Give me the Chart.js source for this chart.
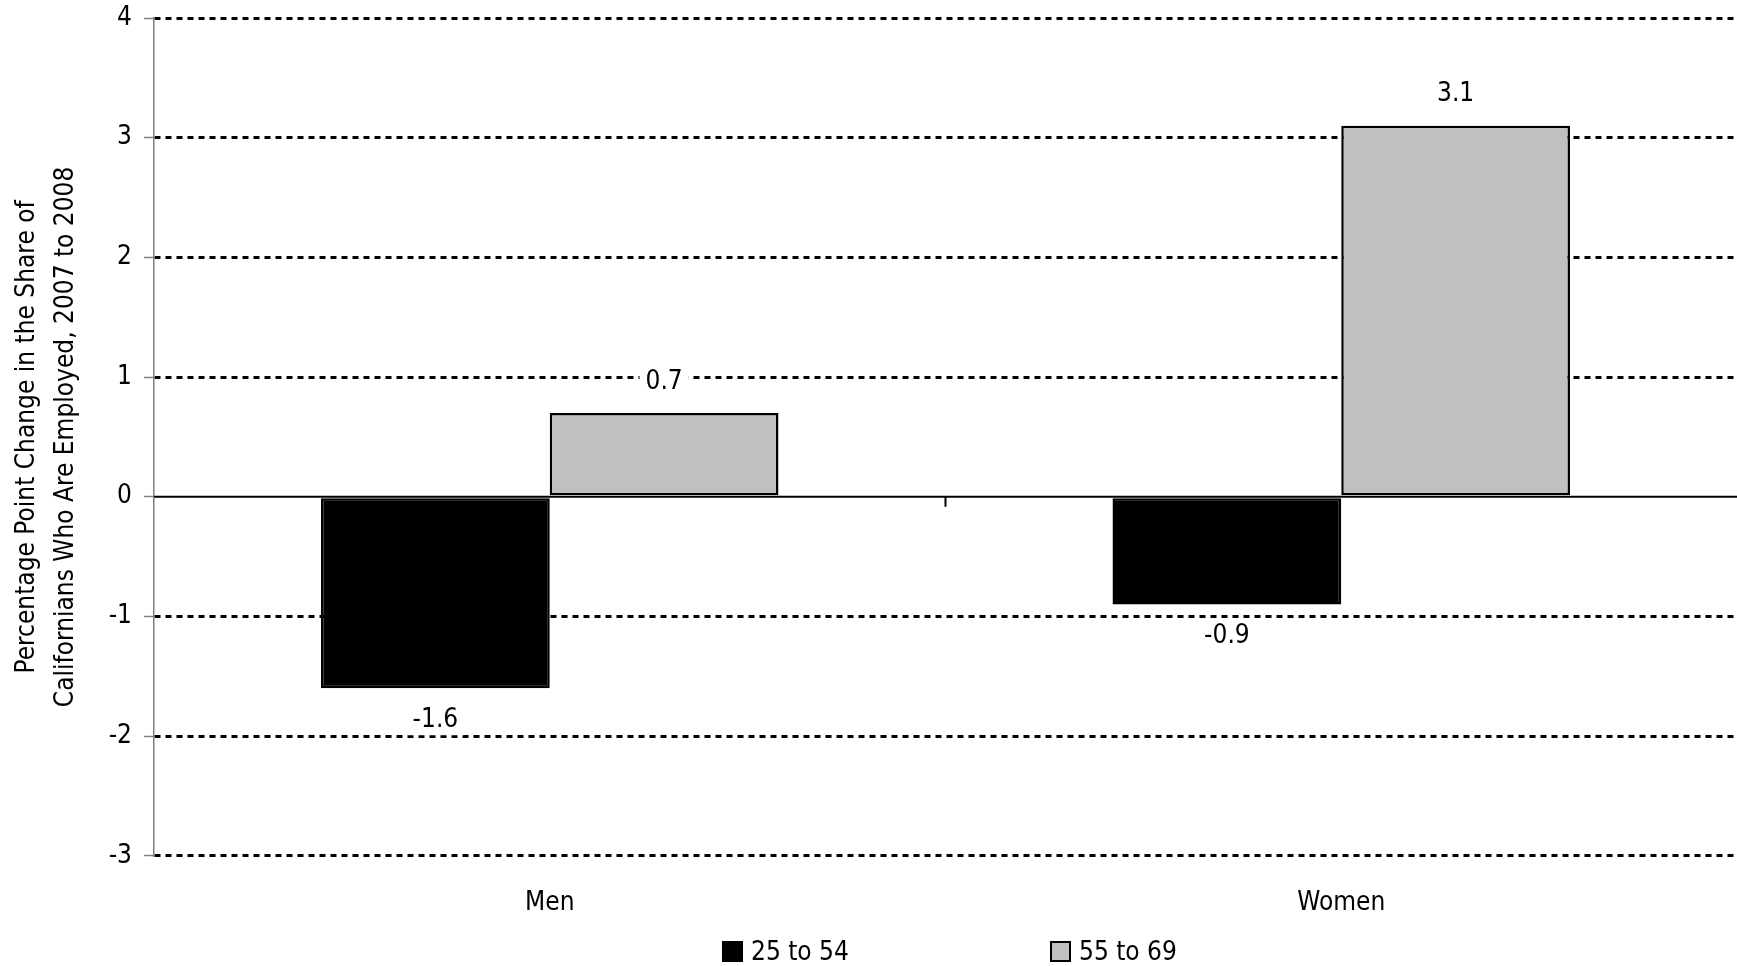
<!DOCTYPE html>
<html>
<head>
<meta charset="utf-8">
<script src="https://cdn.jsdelivr.net/npm/chart.js"></script>
<style>
  body { margin: 0; background: #fff; }
  #wrap { position: relative; width: 1737px; height: 966px; }
  #legend { position: absolute; top: 936px; left: 0; width: 1737px; height: 30px;
            font-family: "DejaVu Sans Condensed", "Liberation Sans Narrow", sans-serif; font-size: 26px; color: #000; }
  .item { position: absolute; top: 0; display: flex; align-items: center; }
  .box { width: 17px; height: 17px; border: 2px solid #000; margin-right: 8px; }
</style>
</head>
<body>
<div id="wrap">
  <canvas id="barras" width="1737" height="966"></canvas>
  <div id="legend"></div>
</div>
<script>
const categorias = ["Men", "Women"];
const faixas = ["25 to 54", "55 to 69"];
const valores2554 = [-1.6, -0.9];
const valores5569 = [0.7, 3.1];
const ticksY = [-3, -2, -1, 0, 1, 2, 3, 4];
const cores = ["#000000", "#c0c0c0"];

const fonte = "'DejaVu Sans Condensed', 'Liberation Sans Narrow', sans-serif";

// linha do zero e rotulos dos valores
const extras = {
  id: "extras",
  beforeDatasetsDraw(chart) {
    const ctx = chart.ctx;
    const y = chart.scales.y;
    const x = chart.scales.x;
    const y0 = y.getPixelForValue(0);
    ctx.save();
    ctx.strokeStyle = "#000";
    ctx.lineWidth = 2;
    ctx.beginPath();
    ctx.moveTo(chart.chartArea.left, y0);
    ctx.lineTo(chart.chartArea.right, y0);
    const meio = (x.getPixelForValue(0) + x.getPixelForValue(1)) / 2;
    ctx.moveTo(meio, y0);
    ctx.lineTo(meio, y0 + 10);
    ctx.stroke();
    ctx.restore();
  },
  afterDatasetsDraw(chart) {
    const ctx = chart.ctx;
    ctx.save();
    ctx.font = "26px " + fonte;
    ctx.textAlign = "center";
    ctx.textBaseline = "middle";
    chart.data.datasets.forEach((ds, i) => {
      chart.getDatasetMeta(i).data.forEach((bar, j) => {
        const v = ds.data[j];
        const ty = v >= 0 ? bar.y - 31 : bar.y + 32;
        const txt = v.toFixed(1);
        const w = ctx.measureText(txt).width + 12;
        ctx.fillStyle = "#fff";
        ctx.fillRect(bar.x - w / 2, ty - 15, w, 30);
        ctx.fillStyle = "#000";
        ctx.fillText(txt, bar.x, ty);
      });
    });
    ctx.restore();
  }
};

let grafico = new Chart(document.getElementById("barras"), {
  type: "bar",
  data: {
    labels: categorias,
    datasets: [
      {
        label: faixas[0],
        data: valores2554,
        backgroundColor: cores[0],
        borderColor: "#000",
        borderWidth: 2.5,
        borderSkipped: false,
      },
      {
        label: faixas[1],
        data: valores5569,
        backgroundColor: cores[1],
        borderColor: "#000",
        borderWidth: 2.5,
        borderSkipped: false,
      }
    ]
  },
  options: {
    responsive: false,
    animation: false,
    categoryPercentage: 0.578,
    barPercentage: 1,
    layout: { padding: { top: 18, right: 0, bottom: 23, left: 0 } },
    plugins: {
      legend: { display: false },
      tooltip: { enabled: false },
    },
    scales: {
      x: {
        grid: { display: false },
        border: { display: false },
        ticks: { color: "#000", font: { family: fonte, size: 26 }, padding: 24 },
      },
      y: {
        min: -3,
        max: 4,
        afterBuildTicks(scale) {
          scale.ticks = ticksY.map(v => ({ value: v }));
        },
        afterFit(scale) {
          scale.width = 154;
          scale.paddingTop = 0;
        },
        grid: {
          color: c => (c.tick && c.tick.value === 0) ? "rgba(0,0,0,0)" : "#000",
          lineWidth: 3,
          tickColor: "#808080",
          tickWidth: 1.5,
          tickLength: 10,
        },
        border: { display: true, color: "#808080", width: 1.5, dash: [6, 5] },
        ticks: { color: "#000", font: { family: fonte, size: 26 }, padding: 12 },
        title: {
          display: true,
          text: ["Percentage Point Change in the Share of", "Californians Who Are Employed, 2007 to 2008"],
          color: "#000",
          font: { family: fonte, size: 26, lineHeight: 1.5 },
          padding: { top: 8, bottom: 0 },
        }
      }
    }
  },
  plugins: [extras]
});

// legenda em html
const leg = document.getElementById("legend");
const posLeg = [722, 1050];
faixas.forEach((f, i) => {
  const d = document.createElement("div");
  d.className = "item";
  d.style.left = posLeg[i] + "px";
  d.innerHTML = '<span class="box" style="background:' + cores[i] + '"></span><span>' + f + '</span>';
  leg.appendChild(d);
});
</script>
</body>
</html>
